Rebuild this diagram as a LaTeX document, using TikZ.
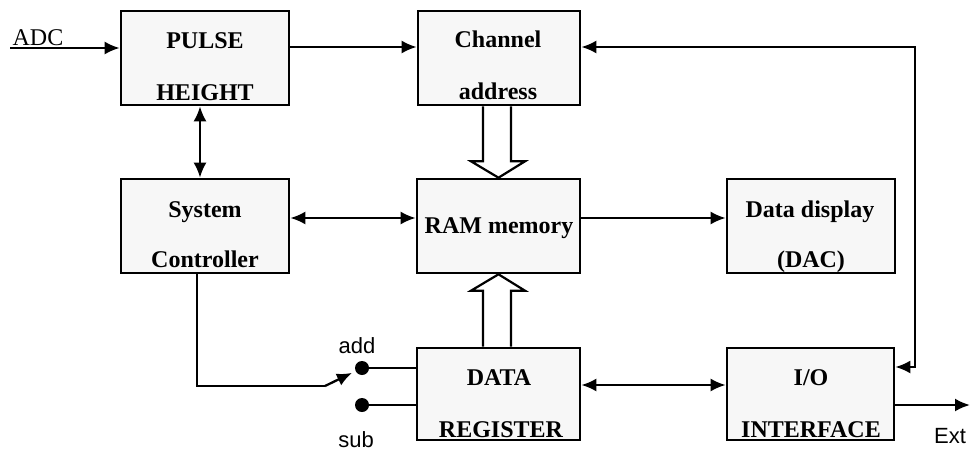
\documentclass[tikz,border=0pt]{standalone}
\usepackage{fontspec}
\setmainfont{Liberation Serif}
\setsansfont{Liberation Sans}
\usetikzlibrary{arrows.meta,calc}
\begin{document}
\begin{tikzpicture}[x=1pt,y=-1pt,
  box/.style={draw, line width=2.6pt, fill=black!3, inner sep=0pt, minimum width=#1},
  box/.default=166pt,
  tall/.style={minimum height=94pt},
  low/.style={minimum height=92pt},
  lbl/.style={font=\fontsize{24}{28}\selectfont\bfseries, anchor=base, inner sep=0pt},
  slbl/.style={font=\fontsize{22}{28}\selectfont\sffamily, anchor=base, inner sep=0pt},
  conn/.style={line width=2.3pt},
  tipr/.style={-{Latex[length=15pt,width=13pt]}},
  tipb/.style={{Latex[length=15pt,width=13pt]}-{Latex[length=15pt,width=13pt]}},
  hollow/.style={draw, line width=2.2pt, fill=white, line join=miter},
  dot/.style={circle, fill=black, inner sep=0pt, minimum size=14pt}]
\useasboundingbox (0,0) rectangle (972,450);

% boxes
\node[box=168pt, tall] (pulse) at (205,58) {};
\node[box=162pt, tall] (chan)  at (499,58) {};
\node[box=168pt, tall] (sys)   at (205,226) {};
\node[box=163pt, tall] (ram)   at (498.5,226) {};
\node[box=168pt, tall] (disp)  at (811,226) {};
\node[box=163pt, low]  (dreg)  at (498.5,394) {};
\node[box=167pt, low]  (io)    at (810.5,394) {};

% texts
\node[lbl] (t1a) at (205,48) {PULSE};
\node[lbl] (t1b) at (205,100) {HEIGHT};
\node[lbl] (t2a) at (498,47) {Channel};
\node[lbl] (t2b) at (498,99) {address};
\node[lbl] (t3a) at (205,217) {System};
\node[lbl] (t3b) at (205,267) {Controller};
\node[lbl] (t4)  at (499,233) {RAM memory};
\node[lbl] (t5a) at (810,217) {Data display};
\node[lbl] (t5b) at (811,267) {(DAC)};
\node[lbl] (t6a) at (499,385) {DATA};
\node[lbl] (t6b) at (501,437) {REGISTER};
\node[lbl] (t7a) at (811,385) {I/O};
\node[lbl] (t7b) at (811,437) {INTERFACE};
\node[font=\fontsize{24}{28}\selectfont, anchor=base, inner sep=0pt] (adc) at (38,45) {ADC};
\node[slbl] (add) at (357,353) {add};
\node[slbl] (sub) at (356,447) {sub};
\node[slbl] (ext) at (950,443) {Ext};

% coordinates
\coordinate (adcin) at (10,48);
\coordinate (rt) at (915,47);
\coordinate (extout) at (970,405);
\coordinate (pivot) at (325,386);
\node[dot] (adddot) at (362,368) {};
\node[dot] (subdot) at (362,405) {};

% connectors
\draw[conn,tipr] (adcin) -- (adcin -| pulse.west);
\draw[conn,tipr] ([yshift=11pt]pulse.east) -- ([yshift=11pt]chan.west);
\draw[conn,tipb] ([yshift=11pt]chan.east) -- (rt) -- (rt |- 0,367) -- ([yshift=27pt]io.east);
\draw[conn,tipb] ([xshift=-5pt]pulse.south) -- ([xshift=-5pt]sys.north);
\draw[conn,tipb] ([yshift=8pt]sys.east) -- ([yshift=8pt]ram.west);
\draw[conn,tipr] ([yshift=8pt]ram.east) -- ([yshift=8pt]disp.west);
\draw[conn,tipb] ([yshift=9pt]dreg.east) -- ([yshift=9pt]io.west);
\draw[conn,tipr] ([yshift=-11pt]io.east) -- (extout);
\draw[conn] ([xshift=-8pt]sys.south) |- (pivot);
\draw[conn,tipr,shorten >=4pt] (pivot) -- (adddot);
\draw[conn] (adddot) -- (adddot -| dreg.west);
\draw[conn] (subdot) -- (subdot -| dreg.west);

% hollow bus arrows
\draw[hollow] ($(chan.south)+(-16,0)$) -- ($(chan.south)+(-16,55)$) -- ($(chan.south)+(-28,55)$)
  -- (ram.north) -- ($(chan.south)+(26,55)$) -- ($(chan.south)+(12,55)$) -- ($(chan.south)+(12,0)$);
\draw[hollow] ($(dreg.north)+(-15.5,0)$) -- ($(dreg.north)+(-15.5,-56)$) -- ($(dreg.north)+(-27.5,-56)$)
  -- (ram.south) -- ($(dreg.north)+(26.5,-56)$) -- ($(dreg.north)+(12.5,-56)$) -- ($(dreg.north)+(12.5,0)$);
\end{tikzpicture}
\end{document}
